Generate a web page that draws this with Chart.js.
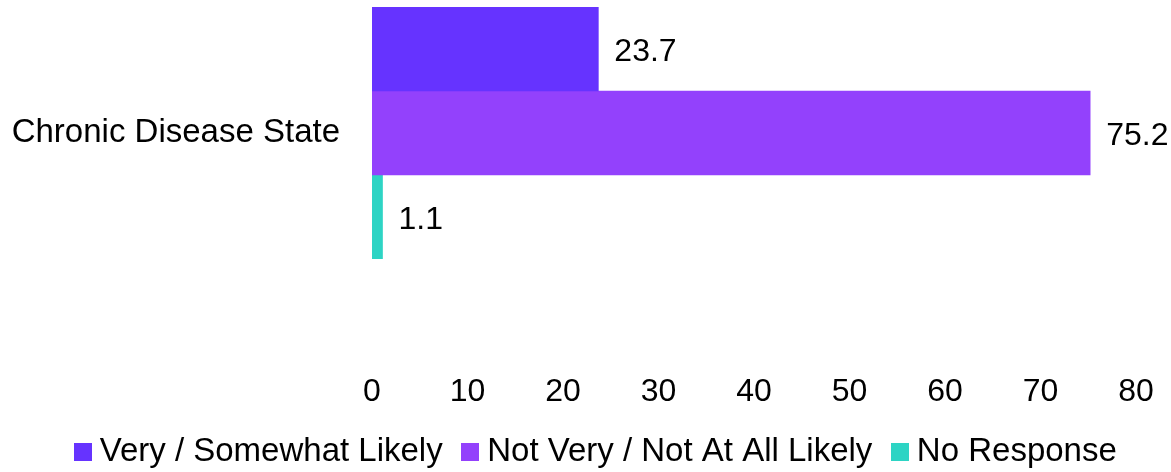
<!DOCTYPE html>
<html>
<head>
<meta charset="utf-8">
<script src="https://cdn.jsdelivr.net/npm/chart.js@4/dist/chart.umd.min.js"></script>
<style>
  html, body { margin: 0; padding: 0; background: #ffffff; }
  #wrap { width: 1171px; height: 472px; }
</style>
</head>
<body>
<div id="wrap"><canvas id="c" width="1171" height="472"></canvas></div>
<script>
// Survey responses for one category, shown as grouped horizontal bars
const categories = ["Chronic Disease State"];
const seriesNames = ["Very / Somewhat Likely", "Not Very / Not At All Likely", "No Response"];
const likelyValues = [23.7];
const notLikelyValues = [75.2];
const noResponseValues = [1.1];
const xTickValues = [0, 10, 20, 30, 40, 50, 60, 70, 80];
const seriesColors = ["#6633FF", "#9341FC", "#2DD4C4"];

const FONT = "'Liberation Sans', Arial, Helvetica, sans-serif";

// Small square swatches for the legend, placed tight against the label text
function swatch(color) {
  const c = document.createElement("canvas");
  c.width = 18;
  c.height = 18;
  const g = c.getContext("2d");
  g.fillStyle = color;
  g.fillRect(0, 0, 18, 18);
  return c;
}
const swatches = seriesColors.map(swatch);

// Writes each bar's value just past its end; nudges the legend row slightly right
const valueLabels = {
  id: "valueLabels",
  afterLayout(chart) {
    if (chart.legend) {
      chart.legend.left += 14;
      chart.legend.right += 14;
    }
  },
  afterDatasetsDraw(chart) {
    const ctx = chart.ctx;
    ctx.save();
    ctx.font = "32px " + FONT;
    ctx.fillStyle = "#000000";
    ctx.textAlign = "left";
    ctx.textBaseline = "middle";
    chart.data.datasets.forEach((ds, di) => {
      const meta = chart.getDatasetMeta(di);
      meta.data.forEach((bar, i) => {
        ctx.fillText(ds.data[i].toFixed(1), bar.x + 16, bar.y + 3);
      });
    });
    ctx.restore();
  }
};

new Chart(document.getElementById("c"), {
  type: "bar",
  data: {
    labels: categories,
    datasets: [
      { label: seriesNames[0], data: likelyValues, backgroundColor: seriesColors[0] },
      { label: seriesNames[1], data: notLikelyValues, backgroundColor: seriesColors[1] },
      { label: seriesNames[2], data: noResponseValues, backgroundColor: seriesColors[2] }
    ]
  },
  options: {
    indexAxis: "y",
    responsive: false,
    animation: false,
    events: [],
    datasets: { bar: { categoryPercentage: 1.0, barPercentage: 1.0, borderWidth: 0 } },
    layout: { padding: { left: 0, right: 0, top: 7, bottom: -6 } },
    scales: {
      x: {
        min: 0,
        max: 80,
        afterBuildTicks(scale) { scale.ticks = xTickValues.map(v => ({ value: v })); },
        afterFit(scale) {
          scale.height = 149;
          scale.paddingLeft = 0;
          scale.paddingRight = 35;
        },
        grid: { display: false, drawTicks: false },
        border: { display: false },
        ticks: { color: "#000000", font: { family: FONT, size: 32 }, padding: 114, maxRotation: 0 }
      },
      y: {
        afterFit(scale) {
          scale.width = 372;
          scale.paddingTop = 0;
          scale.paddingBottom = 0;
        },
        grid: { display: false, drawTicks: false },
        border: { display: false },
        ticks: { color: "#000000", font: { family: FONT, size: 33 }, padding: 32 }
      }
    },
    plugins: {
      tooltip: { enabled: false },
      legend: {
        position: "bottom",
        labels: {
          color: "#000000",
          font: { family: FONT, size: 33 },
          usePointStyle: true,
          pointStyleWidth: 1,
          padding: 27,
          generateLabels(chart) {
            const items = Chart.defaults.plugins.legend.labels.generateLabels(chart);
            items.forEach((item, i) => { item.pointStyle = swatches[i]; });
            return items;
          }
        }
      }
    }
  },
  plugins: [valueLabels]
});
</script>
</body>
</html>
